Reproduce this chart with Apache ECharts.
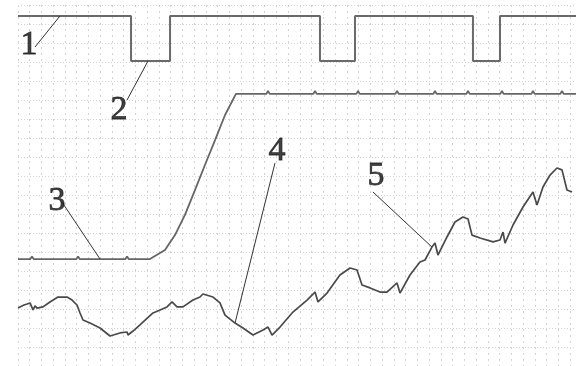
<!DOCTYPE html>
<html>
<head>
<meta charset="utf-8">
<script src="https://cdn.jsdelivr.net/npm/echarts@6/dist/echarts.min.js"></script>
<style>
html,body{margin:0;padding:0;background:#fff;}
#chart{width:576px;height:366px;}
</style>
</head>
<body>
<div id="chart"></div>
<script>
// Values in grid divisions (x: time divisions, y: vertical divisions)
const squareWave = [
  [0,18.42],[1.05,18.42],[1.19,18.52],[1.33,18.42],[3.0,18.42],[3.15,18.52],[3.3,18.42],
  [4.88,18.42],[5.02,18.52],[5.16,18.42],[9.62,18.42],[9.62,16.05],[12.94,16.05],[12.94,18.42],
  [17.05,18.42],[17.19,18.52],[17.33,18.42],[21.14,18.42],[21.28,18.52],[21.42,18.42],
  [25.70,18.42],[25.70,16.05],[28.68,16.05],[28.68,18.42],[32.12,18.42],[32.26,18.52],[32.4,18.42],
  [35.35,18.42],[35.49,18.52],[35.63,18.42],[38.72,18.42],[38.72,16.05],[41.02,16.05],[41.02,18.42],
  [43.69,18.42],[43.83,18.52],[43.97,18.42],[46.16,18.42],[46.30,18.52],[46.44,18.42],[47.49,18.42]
];
const rampTrace = [
  [0,5.63],[1.05,5.63],[1.19,5.76],[1.33,5.63],[4.97,5.63],[5.11,5.76],[5.25,5.63],
  [9.14,5.63],[9.28,5.76],[9.42,5.63],[11.23,5.63],[12.51,6.11],[13.36,6.89],[14.21,7.95],
  [15.06,9.26],[15.91,10.58],[16.77,11.89],[17.62,13.21],[18.55,14.32],
  [21.14,14.32],[21.28,14.47],[21.42,14.32],[25.14,14.32],[25.28,14.47],[25.42,14.32],
  [28.8,14.32],[28.94,14.47],[29.08,14.32],[32.12,14.32],[32.26,14.47],[32.4,14.32],
  [35.35,14.32],[35.49,14.47],[35.63,14.32],[38.16,14.32],[38.30,14.47],[38.44,14.32],
  [41.05,14.32],[41.19,14.47],[41.33,14.32],[43.69,14.32],[43.83,14.47],[43.97,14.32],
  [46.16,14.32],[46.30,14.47],[46.44,14.32],[47.49,14.32]
];
const noisyTrace = [
  [0,3.05],[0.51,3.21],[0.77,3.26],[1.02,3.32],[1.28,2.95],[1.45,3.16],[1.62,3.05],[2.13,3.11],
  [2.72,3.37],[3.40,3.63],[4.17,3.63],[4.60,3.47],[5.02,3.21],[5.28,2.79],[5.53,2.42],[6.13,2.26],
  [6.98,2.00],[7.83,1.58],[8.00,1.53],[8.68,1.74],[9.28,1.79],[9.36,1.63],[9.79,1.84],[10.38,2.16],
  [11.49,2.79],[12.09,2.95],[12.68,3.11],[13.11,3.37],[13.53,3.11],[14.04,3.11],[14.89,3.47],
  [15.49,3.63],[15.74,3.79],[16.60,3.63],[17.19,3.32],[17.62,2.68],[18.47,2.26],[19.15,2.00],
  [20.00,1.63],[20.85,1.89],[21.28,2.05],[21.62,1.63],[22.30,2.05],[23.40,2.84],[24.60,3.47],
  [25.28,3.89],[25.53,3.37],[26.30,3.84],[27.40,4.79],[28.26,5.16],[28.85,5.05],[29.28,4.26],
  [29.96,4.11],[30.81,3.89],[31.40,3.89],[32.26,4.37],[32.51,3.84],[33.36,4.79],[34.21,5.47],
  [34.64,5.58],[35.23,6.26],[35.49,6.47],[35.74,5.84],[36.51,6.79],[37.19,7.58],[37.87,7.84],
  [38.30,7.74],[38.64,6.89],[39.32,6.74],[40.43,6.53],[41.02,6.63],[41.28,7.05],[41.45,6.47],
  [42.13,7.42],[42.98,8.37],[43.83,9.16],[44.17,8.47],[44.68,9.42],[45.28,10.05],[45.87,10.42],
  [46.30,10.32],[46.72,9.26],[47.15,9.16]
];
const labelNames = ['1','2','3','4','5'];
const labelPos = [[0.94,16.89],[8.60,13.47],[3.32,8.68],[22.04,11.32],[30.47,10.0]];
const leaderFrom = [[1.45,16.79],[9.28,14.0],[3.74,8.63],[21.87,10.68],[30.21,9.16]];
const leaderTo = [[3.57,18.42],[11.06,16.05],[6.98,5.63],[18.47,2.26],[35.23,6.26]];

const chart = echarts.init(document.getElementById('chart'), null, {renderer:'canvas'});
const series = [
  {type:'line', data:squareWave, showSymbol:false, lineStyle:{color:'#6a6a6a', width:2}, z:3},
  {type:'line', data:rampTrace, showSymbol:false, lineStyle:{color:'#666', width:1.8}, z:3},
  {type:'line', data:noisyTrace, showSymbol:false, lineStyle:{color:'#4a4a4a', width:1.7}, z:3}
];
labelNames.forEach((n,i)=>{
  series.push({type:'line', data:[leaderFrom[i], leaderTo[i]], showSymbol:false,
    lineStyle:{color:'#333', width:1}, z:4});
});
series.push({type:'scatter', symbolSize:0, z:5,
  data: labelNames.map((n,i)=>({name:n, value:labelPos[i]})),
  label:{show:true, position:'inside', formatter:p=>p.name,
    fontFamily:'Liberation Serif', fontSize:34, color:'#111',
    textBorderColor:'#111', textBorderWidth:0.8}
});

chart.setOption({
  animation:false,
  backgroundColor:'#fff',
  grid:{left:18, right:0, top:5, bottom:0},
  xAxis:{type:'value', min:0, max:47.49, interval:1,
    axisLine:{show:false}, axisTick:{show:false}, axisLabel:{show:false},
    splitLine:{show:true, lineStyle:{color:'#d2d2d2', type:[2,4], width:1}}},
  yAxis:{type:'value', min:0, max:19, interval:1,
    axisLine:{show:false}, axisTick:{show:false}, axisLabel:{show:false},
    splitLine:{show:true, lineStyle:{color:'#d2d2d2', type:[1,2], width:1}}},
  series: series
});
</script>
</body>
</html>
